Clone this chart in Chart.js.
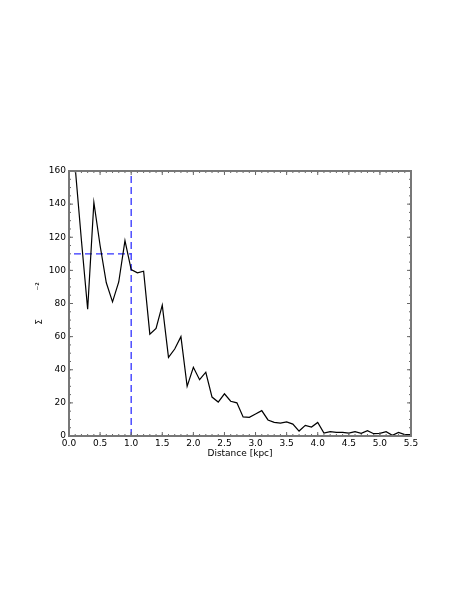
<!DOCTYPE html>
<html>
<head>
<meta charset="utf-8">
<script src="https://cdn.jsdelivr.net/npm/chart.js@4"></script>
<style>
html,body{margin:0;padding:0;background:#fff;}
#wrap{width:469px;height:607px;}
</style>
</head>
<body>
<div id="wrap"><canvas id="c" width="469" height="607"></canvas></div>
<script>
const distance = [0.1,0.2,0.3,0.4,0.5,0.6,0.7,0.8,0.9,1.0,
  1.1,1.2,1.3,1.4,1.5,1.6,1.7,1.8,1.9,2.0,
  2.1,2.2,2.3,2.4,2.5,2.6,2.7,2.8,2.9,3.0,
  3.1,3.2,3.3,3.4,3.5,3.6,3.7,3.8,3.9,4.0,
  4.1,4.2,4.3,4.4,4.5,4.6,4.7,4.8,4.9,5.0,
  5.1,5.2,5.3,5.4,5.5];
const sigma = [162,118,76.5,141,115,92.5,81,93,118,100.5,
  98.5,99.5,61.5,65,79,47.5,52.5,60,30,41.5,
  34,38.5,23.5,20.5,25.5,21,20,11.5,11.3,13.3,
  15.3,9.7,8.2,7.8,8.5,7.2,3,6.4,5.4,8.2,
  1.8,2.6,2.2,2.2,1.8,2.6,1.6,3.2,1.4,1.6,
  2.6,0.4,2.2,0.8,0.8];
const thresholdX = [0.08, 1.0];
const thresholdY = [110, 110];
const cutX = [1.0, 1.0];
const cutY = [0, 160];
const xMajor = [0,0.5,1.0,1.5,2.0,2.5,3.0,3.5,4.0,4.5,5.0,5.5];
const yMajor = [0,20,40,60,80,100,120,140,160];
const xMinorStep = 0.1;
const yMinorStep = 5;

const pts = (xs, ys) => xs.map((v,i)=>({x:v,y:ys[i]}));

const frameTicks = {
  id:'frameTicks',
  afterDatasetsDraw(chart){
    const {ctx, chartArea:a, scales:{x,y}} = chart;
    ctx.save();
    ctx.strokeStyle = '#666';
    ctx.lineWidth = 1;
    const seg=(x1,y1,x2,y2)=>{ctx.beginPath();ctx.moveTo(x1,y1);ctx.lineTo(x2,y2);ctx.stroke();};
    // minor x
    for (let i=0;i<=55;i++){
      const v=i*xMinorStep; const px=x.getPixelForValue(v);
      seg(px,a.bottom,px,a.bottom-2); seg(px,a.top,px,a.top+2);
    }
    for (const v of xMajor){
      const px=x.getPixelForValue(v);
      seg(px,a.bottom,px,a.bottom-4); seg(px,a.top,px,a.top+4);
    }
    for (let i=0;i<=32;i++){
      const v=i*yMinorStep; const py=y.getPixelForValue(v);
      seg(a.left,py,a.left+2,py); seg(a.right,py,a.right-2,py);
    }
    for (const v of yMajor){
      const py=y.getPixelForValue(v);
      seg(a.left,py,a.left+4,py); seg(a.right,py,a.right-4,py);
    }
    ctx.lineWidth = 2;
    ctx.strokeStyle = '#777';
    ctx.strokeRect(a.left,a.top,a.right-a.left,a.bottom-a.top);
    ctx.restore();
  }
};

const font = {family:'DejaVu Sans', size:9};

new Chart(document.getElementById('c'), {
  type:'line',
  data:{
    datasets:[
      {data:pts(distance,sigma), borderColor:'#000', borderWidth:1.2, pointRadius:0, tension:0, fill:false},
      {data:pts(thresholdX,thresholdY), borderColor:'rgb(50,50,255)', borderWidth:1.3, borderDash:[7,4], pointRadius:0, fill:false},
      {data:pts(cutX,cutY), borderColor:'rgb(50,50,255)', borderWidth:1.3, borderDash:[7,4], pointRadius:0, fill:false}
    ]
  },
  options:{
    responsive:false,
    animation:false,
    devicePixelRatio:1,
    layout:{padding:{left:0, top:171, right:58, bottom:147}},
    plugins:{legend:{display:false}, tooltip:{enabled:false}},
    scales:{
      x:{
        type:'linear', min:0, max:5.5,
        grid:{display:false, drawTicks:false},
        border:{display:false},
        ticks:{stepSize:0.5, color:'#000', font, padding:2, maxRotation:0,
          callback:(v)=>Number(v).toFixed(1)},
        title:{display:true, text:'Distance [kpc]', color:'#000', font, padding:{top:0,bottom:1}},
        afterFit(s){ s.height = 24; }
      },
      y:{
        type:'linear', min:0, max:160,
        grid:{display:false, drawTicks:false},
        border:{display:false},
        ticks:{stepSize:20, color:'#000', font, padding:3},
        title:{display:true, text:'Σ          ⁻²', color:'#000', font, padding:{top:34,bottom:0}},
        afterFit(s){ s.width = 69; }
      }
    }
  },
  plugins:[frameTicks]
});
</script>
</body>
</html>
